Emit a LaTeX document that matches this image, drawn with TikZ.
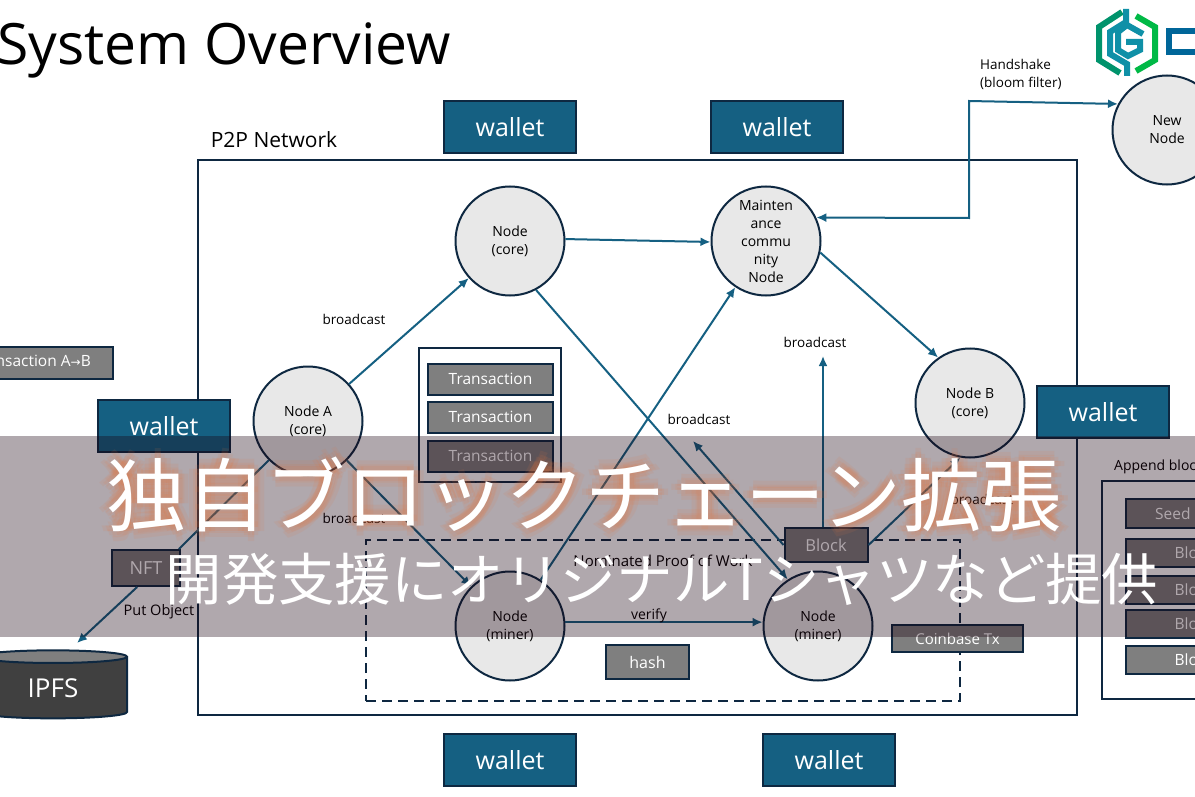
\documentclass[tikz,border=0pt]{standalone}
\usepackage{fontspec}
\setmainfont{Open Sans}
\newfontfamily\jpfont{Noto Sans CJK JP}
\newfontfamily\symfont{DejaVu Sans}
\usetikzlibrary{arrows.meta,shapes.geometric}
\definecolor{linkblue}{HTML}{156082}
\definecolor{edgedark}{HTML}{0E2841}
\definecolor{nodegray}{HTML}{E8E8E8}
\definecolor{boxgray}{HTML}{7F7F7F}
\definecolor{glow}{HTML}{E8743B}
\definecolor{bandtint}{HTML}{1A000F}
\tikzset{
    node/.style={circle, draw=edgedark, line width=2pt, fill=nodegray, minimum size=109pt, inner sep=0pt, align=center, font=\fontsize{14}{18}\selectfont},
    wallet/.style={rectangle, draw=edgedark, line width=2pt, fill=linkblue, text=white, minimum width=132pt, minimum height=52pt, font=\fontsize{25}{25}\selectfont},
    graybox/.style={rectangle, draw=edgedark, line width=2pt, fill=boxgray, text=white, inner sep=0pt, font=\fontsize{15.5}{15.5}\selectfont},
    label/.style={inner sep=0pt, align=left, font=\fontsize{13.5}{18}\selectfont},
}

\begin{document}
\begin{tikzpicture}[x=1pt, y=-1pt]
\useasboundingbox (0,0) rectangle (1195,797);
\clip (0,0) rectangle (1195,797);
\fill[white] (0,0) rectangle (1195,797);

\node[inner sep=0pt, anchor=west, font=\fontsize{57}{57}\selectfont] (title) at (-3,50) {System Overview};

% network frame
\node[draw=edgedark, line width=2pt, minimum width=879pt, minimum height=555pt, inner sep=0pt] (p2p) at (637.5,437.5) {};
\node[label, font=\fontsize{21}{21}\selectfont] (p2plabel) at (274,140) {P2P Network};

\node[wallet] (w1) at (510,127) {wallet};
\node[wallet] (w2) at (777,127) {wallet};
\node[wallet] (w3) at (164,426) {wallet};
\node[wallet] (w4) at (1103,412) {wallet};
\node[wallet] (w5) at (510,760) {wallet};
\node[wallet] (w6) at (829,760) {wallet};

\node[draw=edgedark, line width=2pt, dash pattern=on 10pt off 6pt, minimum width=594pt, minimum height=161pt, inner sep=0pt] (pow) at (663,620.5) {};
\node[label, font=\fontsize{15}{15}\selectfont] (powlabel) at (663,561) {Nominated Proof of Work};

\node[node] (core) at (510,241) {Node\\(core)};
\node[node] (maint) at (766,241) {Mainten\\ance\\commu\\nity\\Node};
\node[node] (nodeA) at (308,421) {Node A\\(core)};
\node[node] (nodeB) at (970,403) {Node B\\(core)};
\node[node] (minerL) at (510,626) {Node\\(miner)};
\node[node] (minerR) at (818,626) {Node\\(miner)};
\node[node] (newnode) at (1167,130) {New\\Node};

% transactions
\node[draw=edgedark, line width=2pt, fill=white, minimum width=142pt, minimum height=134pt, inner sep=0pt] (txbox) at (490,415) {};
\node[graybox, minimum width=125pt, minimum height=31pt] (tx1) at (490.5,379) {Transaction};
\node[graybox, minimum width=125pt, minimum height=31pt] (tx2) at (490.5,417) {Transaction};
\node[graybox, minimum width=125pt, minimum height=31pt] (tx3) at (490.5,456) {Transaction};

\node[graybox, minimum width=130pt, minimum height=32pt] (txab) at (48,363) {};
\node[inner sep=0pt, anchor=east, text=white, font=\fontsize{15.5}{15.5}\selectfont] (txabtext) at (91,361) {Transaction A{\symfont\fontsize{12}{12}\selectfont →}B};
\node[graybox, minimum width=68pt, minimum height=36pt, font=\fontsize{18}{18}\selectfont] (nft) at (146,568) {NFT};
\node[graybox, minimum width=83pt, minimum height=34pt, font=\fontsize{16.5}{16.5}\selectfont] (block) at (826,545) {Block};
\node[graybox, minimum width=83pt, minimum height=34pt, font=\fontsize{16}{16}\selectfont] (hash) at (647.5,662) {hash};
\node[graybox, minimum width=131pt, minimum height=27pt, font=\fontsize{15}{15}\selectfont] (coinbase) at (957.5,638.5) {Coinbase Tx};

\node[cylinder, shape border rotate=90, aspect=0.25, draw=edgedark, line width=2pt, cylinder uses custom fill, cylinder body fill=black!75, cylinder end fill=boxgray, text=white, minimum width=148pt, minimum height=68pt, inner sep=0pt, font=\fontsize{26}{26}\selectfont] (ipfs) at (53,688) {\raisebox{-8pt}{IPFS}};

% append block
\node[label, anchor=west, font=\fontsize{14}{14}\selectfont] (applabel) at (1114,467) {Append block};
\node[draw=edgedark, line width=2pt, minimum width=140pt, minimum height=218pt, inner sep=0pt] (appbox) at (1172,590) {};
\node[graybox, minimum width=136pt, minimum height=29pt] (seed) at (1194,513.5) {Seed block};
\node[graybox, minimum width=136pt, minimum height=28pt] (b1) at (1194,553) {Block};
\node[graybox, minimum width=136pt, minimum height=28pt] (b2) at (1194,590) {Block};
\node[graybox, minimum width=136pt, minimum height=28pt] (b3) at (1194,624) {Block};
\node[graybox, minimum width=136pt, minimum height=28pt] (b4) at (1194,660) {Block};

\coordinate (tipIpfs) at (77,643);
\coordinate (tipUp) at (823,356);
\coordinate (tipLeft) at (693,441);
\coordinate (turnA) at (969,101);
\coordinate (turnB) at (969,218);

\begin{scope}[-{Latex[length=10pt,width=9pt]}, draw=linkblue, line width=2pt]
    \draw (nodeA.42) -- (core.222);
    \draw (core.2) -- (maint.181);
    \draw (maint.-12) -- (nodeB.125);
    \draw (nodeA) -- (minerL);
    \draw (minerL) -- (maint);
    \draw (core.-62) -- (minerR.123);
    \draw (minerL.4) -- (minerR.176);
    \draw (block.north -| tipUp) -- (tipUp);
    \draw (block.west) -- (tipLeft);
    \draw (block.east) -- (nodeB.-100);
    \draw (nft.-115) -- (tipIpfs);
    \draw[{Latex[length=10pt,width=9pt]}-{Latex[length=10pt,width=9pt]}] (maint.25) -- (turnB) -- (turnA) -- (newnode.152);
    \draw[-] (nodeA.-135) -- (nft.30);
\end{scope}

\node[label] (lb1) at (354,319) {broadcast};
\node[label] (lb2) at (354,518) {broadcast};
\node[label] (lb3) at (699,419) {broadcast};
\node[label] (lb4) at (815,342) {broadcast};
\node[label] (lb5) at (982,499) {broadcast};
\node[label, font=\fontsize{14.5}{14.5}\selectfont] (putobj) at (159,612) {Put Object};
\node[label, font=\fontsize{14}{14}\selectfont] (verify) at (649,616) {verify};
\node[label, anchor=west, font=\fontsize{13.5}{18}\selectfont] (handshake) at (980,74) {Handshake\\(bloom filter)};

% logo
\begin{scope}[line width=6pt, line join=miter]
    \draw[draw=teal!85!green] (1122,12) -- (1099,27) -- (1099,60) -- (1120,73);
    \draw[draw=green!45!teal] (1136,16) -- (1155,27) -- (1155,60) -- (1136,71);
    \draw[draw=linkblue!70!cyan] (1126,9) -- (1126,22) -- (1110,32) -- (1110,54) -- (1127,64) -- (1127,76);
    \draw[draw=linkblue!70!cyan] (1143,34) -- (1127,25) -- (1118,32) -- (1118,50) -- (1128,56) -- (1140,50) -- (1140,42) -- (1126,42);
    \draw[draw=teal!80!blue, line width=6pt] (1196,31) -- (1169,31) -- (1169,52) -- (1196,52);
\end{scope}

% title band
\fill[bandtint, opacity=0.34] (0,436) rectangle (1195,637);
\foreach \dx/\dy in {-6/0, 6/0, 0/-6, 0/6, -4/-4, 4/-4, -4/4, 4/4, -10/0, 10/0, 0/10, 0/-10}
    \node[inner sep=0pt, text=glow, text opacity=0.1, font=\jpfont\fontsize{80}{80}\selectfont] at (584+\dx,494+\dy) {独自ブロックチェーン拡張};
\node[inner sep=0pt, text=white, font=\jpfont\fontsize{80}{80}\selectfont] (headline) at (584,494) {独自ブロックチェーン拡張};
\node[inner sep=0pt, text=white, font=\jpfont\fontsize{56.4}{56.4}\selectfont] (subline) at (662,579) {開発支援にオリジナルTシャツなど提供};
\end{tikzpicture}
\end{document}
